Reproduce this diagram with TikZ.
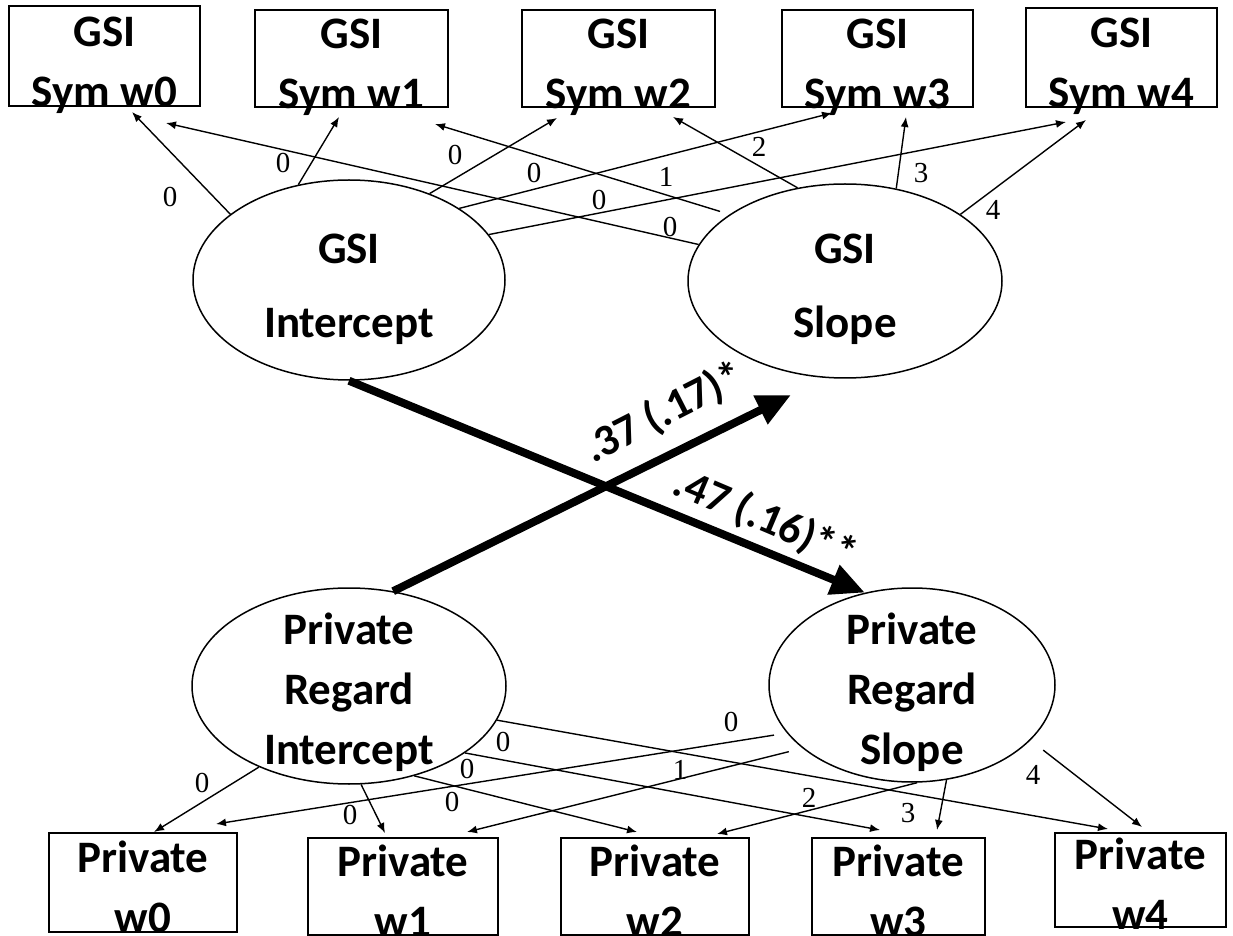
\documentclass[tikz,border=0pt]{standalone}
\usepackage{fontspec}
\setmainfont{Carlito}
\newfontfamily\coeffont{Liberation Serif}
\usetikzlibrary{arrows.meta,shapes.geometric}
\begin{document}
\begin{tikzpicture}[x=0.5pt,y=-0.5pt,
  boxnode/.style={draw, line width=0.9pt, inner sep=0pt},
  latent/.style={draw, ellipse, line width=0.75pt, inner sep=0pt},
  bigtext/.style={font=\fontsize{22.5pt}{30pt}\selectfont\bfseries, align=center, inner sep=0pt},
  gsitext/.style={font=\fontsize{22.5pt}{37pt}\selectfont\bfseries, align=center, inner sep=0pt},
  coef/.style={font=\coeffont\fontsize{14.5pt}{16pt}\selectfont, inner sep=0pt},
  conn/.style={line width=0.7pt, -{Latex[length=5pt,width=4pt]}},
  effect/.style={line width=4pt, -{Triangle[length=17pt,width=15pt]}},
  efftext/.style={font=\fontsize{22pt}{26pt}\selectfont\bfseries, inner sep=0pt}
]
\useasboundingbox (0,0) rectangle (1233,936);

% top observed boxes
\node[boxnode, minimum width=95.5pt, minimum height=50pt,
  label={[bigtext, name=g0t, yshift=-4.5pt]center:{GSI\\Sym w0}}] (g0) at (104.5,56) {};
\node[boxnode, minimum width=96.5pt, minimum height=48.5pt,
  label={[bigtext, name=g1t, yshift=-4.5pt]center:{GSI\\Sym w1}}] (g1) at (351.5,58.5) {};
\node[boxnode, minimum width=96.5pt, minimum height=48.5pt,
  label={[bigtext, name=g2t, yshift=-4.5pt]center:{GSI\\Sym w2}}] (g2) at (618.5,58.5) {};
\node[boxnode, minimum width=95.5pt, minimum height=48.5pt,
  label={[bigtext, name=g3t, yshift=-4.5pt]center:{GSI\\Sym w3}}] (g3) at (877.5,58.5) {};
\node[boxnode, minimum width=95.5pt, minimum height=49.5pt,
  label={[bigtext, name=g4t, yshift=-4.5pt]center:{GSI\\Sym w4}}] (g4) at (1121.5,57.5) {};

% latent ellipses
\node[latent, minimum width=156pt, minimum height=100pt,
  label={[gsitext, name=git, yshift=-4.75pt]center:{GSI\\Intercept}}] (gi) at (349,280) {};
\node[latent, minimum width=157pt, minimum height=97pt,
  label={[gsitext, name=gst, yshift=-4.25pt]center:{GSI\\Slope}}] (gs) at (845,281) {};
\node[latent, minimum width=157pt, minimum height=98pt,
  label={[bigtext, name=pit, yshift=-3pt]center:{Private\\Regard\\Intercept}}] (pi) at (349,686) {};
\node[latent, minimum width=143pt, minimum height=97pt,
  label={[bigtext, name=pst, yshift=-3.5pt]center:{Private\\Regard\\Slope}}] (ps) at (912,685) {};

% bottom observed boxes
\node[boxnode, minimum width=94pt, minimum height=49.5pt,
  label={[bigtext, name=p0t, yshift=-2.25pt]center:{Private\\w0}}] (p0) at (143,882.5) {};
\node[boxnode, minimum width=95pt, minimum height=48.5pt,
  label={[bigtext, name=p1t, yshift=-2.25pt]center:{Private\\w1}}] (p1) at (403,886.5) {};
\node[boxnode, minimum width=94pt, minimum height=48.5pt,
  label={[bigtext, name=p2t, yshift=-2.25pt]center:{Private\\w2}}] (p2) at (655,886.5) {};
\node[boxnode, minimum width=86.5pt, minimum height=48.5pt,
  label={[bigtext, name=p3t, yshift=-2.25pt]center:{Private\\w3}}] (p3) at (898.5,886.5) {};
\node[boxnode, minimum width=85.5pt, minimum height=47pt,
  label={[bigtext, name=p4t, yshift=-2pt]center:{Private\\w4}}] (p4) at (1140.5,880) {};

% arrow end points just below / above the boxes
\coordinate (gi-g0) at (132,112);
\coordinate (gi-g1) at (339,117);
\coordinate (gi-g2) at (557,118);
\coordinate (gi-g3) at (832,113);
\coordinate (gi-g4) at (1066,122);
\coordinate (gs-g0) at (166,123);
\coordinate (gs-g1) at (435,124);
\coordinate (gs-g2) at (673,117);
\coordinate (gs-g3) at (906,117);
\coordinate (gs-g4) at (1086,120);
\coordinate (pi-p0) at (154,832);
\coordinate (pi-p1) at (385,833);
\coordinate (pi-p2) at (637,832);
\coordinate (pi-p3) at (880,830);
\coordinate (pi-p4) at (1108,829);
\coordinate (ps-p0) at (216,824);
\coordinate (ps-p1) at (467,832);
\coordinate (ps-p2) at (717,834);
\coordinate (ps-p3) at (937,830);
\coordinate (ps-p4) at (1142,827);
\coordinate (tipA) at (791,395);

% GSI loadings
\draw[conn] (gi.151) -- (gi-g0);
\draw[conn] (gi.118) -- (gi-g1);
\draw[conn] (gi.47) -- (gi-g2);
\draw[conn] (gi.33) -- (gi-g3);
\draw[conn] (gi.18) -- (gi-g4);
\draw[conn] (gs.166) -- (gs-g0);
\draw[conn, shorten <=5pt] (gs.150) -- (gs-g1);
\draw[conn] (gs.117) -- (gs-g2);
\draw[conn] (gs.61) -- (gs-g3);
\draw[conn] (gs.30) -- (gs-g4);

% Private regard loadings
\draw[conn] (pi.222) -- (pi-p0);
\draw[conn] (pi.277.5) -- (pi-p1);
\draw[conn] (pi.306) -- (pi-p2);
\draw[conn] (pi.330) -- (pi-p3);
\draw[conn] (pi.347) -- (pi-p4);
\draw[conn, shorten <=6.5pt] (ps.201.7) -- (ps-p0);
\draw[conn, shorten <=7pt] (ps.210.8) -- (ps-p1);
\draw[conn] (ps.273.5) -- (ps-p2);
\draw[conn] (ps.290) -- (ps-p3);
\draw[conn, shorten <=8pt] (ps.335.4) -- (ps-p4);

% loading labels (top)
\node[coef] (c1) at (170,197) {0};
\node[coef] (c2) at (283,163) {0};
\node[coef] (c3) at (455,155) {0};
\node[coef] (c4) at (534,173) {0};
\node[coef] (c5) at (599,200) {0};
\node[coef] (c6) at (670,227) {0};
\node[coef] (c7) at (666,177) {1};
\node[coef] (c8) at (759,147) {2};
\node[coef] (c9) at (921,173) {3};
\node[coef] (c10) at (993,210) {4};
% loading labels (bottom)
\node[coef] (d1) at (202,783) {0};
\node[coef] (d2) at (350,815) {0};
\node[coef] (d3) at (452,802) {0};
\node[coef] (d4) at (467,769) {0};
\node[coef] (d5) at (503,742) {0};
\node[coef] (d6) at (731,722) {0};
\node[coef] (d7) at (680,770) {1};
\node[coef] (d8) at (809,798) {2};
\node[coef] (d9) at (908,813) {3};
\node[coef] (d10) at (1033,775) {4};

% cross-lagged effects
\draw[effect] (gi.south) -- (ps.117);
\draw[effect] (pi.65) -- (tipA);
\node[efftext, rotate=27] (l37) at (664,413) {.37 (.17)*};
\node[efftext, rotate=-23] (l47) at (765,519) {.47 (.16)**};
\end{tikzpicture}
\end{document}
